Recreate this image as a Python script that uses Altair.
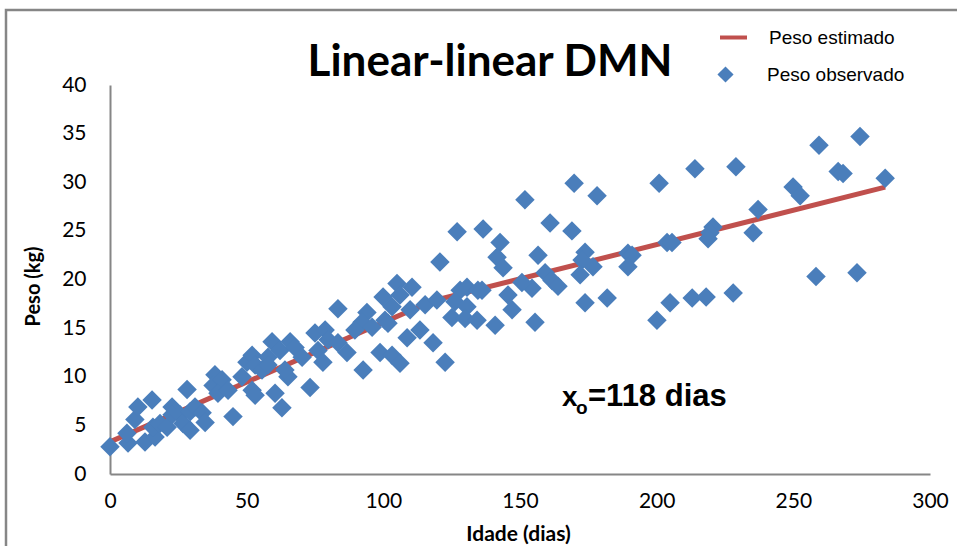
import altair as alt
import pandas as pd

# ---------------- data ----------------
dias = [0, 6.6, 6.2, 9.1, 10.2, 15.4, 12.8, 16.5, 15.7, 18.3,
        22.7, 20.9, 22.7, 25.6, 26.7, 29.3, 29.3, 31.1, 33.7, 34.8,
        28.2, 38.4, 37.7, 41.0, 39.5, 43.2, 45.0, 50.1, 52.0, 53.1,
        55.6, 48.3, 52.0, 53.1, 57.8, 59.3, 62.2, 57.8, 60.4, 62.9,
        65.9, 65.1,
        64.0, 67.7, 70.3, 75.0, 78.7, 79.8, 83.4, 86.7, 76.1, 77.9,
        73.2, 83.4, 94.0, 92.2, 89.6, 95.9, 100.6, 103.2, 101.7, 105.0,
        110.5, 106.1, 99.9, 109.8, 115.3, 119.6, 120.7, 127.0, 128.1, 130.6,
        134.6, 126.2, 130.6, 125.1, 129.9, 134.3, 113.4, 108.7, 118.2, 122.6,
        98.8, 103.2, 106.1, 92.6,
        169.8, 178.2, 151.8, 200.9, 136.5, 161.0, 169.0, 142.7, 141.6, 143.8,
        156.6, 159.2, 161.7, 163.9, 154.4, 150.7, 173.8, 172.7, 176.7, 172.0,
        189.5, 191.0, 189.5, 203.8, 205.6, 136.1, 145.6, 147.1, 140.9, 155.5,
        173.8, 181.9, 200.1, 204.9,
        214.0, 229.0, 259.4, 274.4, 266.4, 268.2, 283.6, 249.9, 252.5, 237.1,
        235.3, 220.6, 219.5, 218.8, 258.3, 273.3, 213.0, 218.1, 228.0]

pesos = [2.8, 3.2, 4.2, 5.6, 6.9, 7.6, 3.3, 3.8, 4.8, 5.2,
         6.9, 4.8, 6.1, 6.1, 5.2, 4.5, 6.4, 6.9, 6.3, 5.3,
         8.7, 10.2, 9.1, 9.7, 8.3, 8.6, 5.9, 11.5, 12.2, 11.2,
         10.7, 10.0, 8.6, 8.1, 12.0, 13.6, 12.7, 11.2, 8.3, 6.8,
         13.6, 10.0,
         10.7, 13.0, 12.0, 14.5, 14.8, 13.8, 13.5, 12.5, 12.7, 11.5,
         8.9, 17.0, 16.6, 15.6, 14.8, 15.1, 15.8, 17.2, 15.5, 19.6,
         19.2, 18.4, 18.2, 16.9, 17.4, 17.9, 21.8, 24.9, 18.9, 19.2,
         18.9, 17.7, 17.2, 16.1, 16.0, 15.8, 14.8, 14.0, 13.5, 11.5,
         12.5, 12.2, 11.4, 10.7,
         29.9, 28.6, 28.2, 29.9, 25.2, 25.8, 25.0, 23.8, 22.3, 21.2,
         22.5, 20.7, 19.9, 19.3, 19.1, 19.7, 22.8, 22.0, 21.3, 20.5,
         22.7, 22.5, 21.3, 23.8, 23.8, 18.9, 18.4, 16.9, 15.3, 15.6,
         17.6, 18.1, 15.8, 17.6,
         31.4, 31.6, 33.8, 34.7, 31.1, 30.9, 30.4, 29.5, 28.6, 27.2,
         24.8, 25.4, 24.8, 24.2, 20.3, 20.7, 18.1, 18.2, 18.6]

linha_dias = [0, 118, 283.6]
linha_pesos = [3.3, 17.8, 29.5]

x_ticks = [0, 50, 100, 150, 200, 250, 300]
y_ticks = [0, 5, 10, 15, 20, 25, 30, 35, 40]

titulo = ["Linear-linear DMN"]
anot_x = ["x"]
anot_sub = ["o"]
anot_rest = ["=118 dias"]

obs = pd.DataFrame({"Idade": dias, "Peso": pesos, "serie": "Peso observado"})
est = pd.DataFrame({"Idade": linha_dias, "Peso": linha_pesos, "linha": "Peso estimado"})

AX = "#868686"
RED = "#C0504D"
BLUE = "#4A7EBB"

xscale = alt.Scale(domain=[0, 300], nice=False, zero=False)
yscale = alt.Scale(domain=[0, 40], nice=False)

xaxis = alt.Axis(values=x_ticks, title="Idade (dias)", grid=False, ticks=False,
                 domainColor=AX, domainWidth=2, labelFont="Lato", labelFontSize=21,
                 labelColor="black", labelPadding=16, labelFlush=False, labelOverlap=False,
                 titleFont="Lato", titleFontSize=21, titleFontWeight="bold",
                 titleColor="black", titleX=408, titleY=60, titleBaseline="middle",
                 titleAlign="center")
yaxis = alt.Axis(values=y_ticks, title="Peso (kg)", grid=False, ticks=False,
                 domainColor=AX, domainWidth=2, labelFont="Lato", labelFontSize=21,
                 labelColor="black", labelPadding=24, labelFlush=False, labelOverlap=False,
                 titleFont="Lato", titleFontSize=20, titleFontWeight="bold",
                 titleColor="black", titleX=-77, titleY=201, titleAngle=270,
                 titleBaseline="middle", titleAlign="center")

frame = alt.Chart(pd.DataFrame({"f": [0]})).mark_rect(
    fillOpacity=0, stroke=AX, strokeWidth=2.5
).encode(x=alt.value(-104), x2=alt.value(960), y=alt.value(-75), y2=alt.value(560))

line = alt.Chart(est).mark_line(strokeWidth=5).encode(
    x=alt.X("Idade:Q", scale=xscale, axis=xaxis),
    y=alt.Y("Peso:Q", scale=yscale, axis=yaxis),
    stroke=alt.Stroke("linha:N",
                      scale=alt.Scale(domain=["Peso estimado"], range=[RED]),
                      legend=alt.Legend(title=None, orient="none", legendX=608, legendY=-63,
                                        symbolType="stroke", symbolSize=729,
                                        symbolStrokeWidth=4, labelFont="Liberation Sans",
                                        labelFontSize=19, labelOffset=20, labelColor="black")),
)

pts = alt.Chart(obs).mark_point(shape="diamond", filled=True, size=380, opacity=1).encode(
    x=alt.X("Idade:Q", scale=xscale, axis=xaxis),
    y=alt.Y("Peso:Q", scale=yscale, axis=yaxis),
    fill=alt.Fill("serie:N",
                  scale=alt.Scale(domain=["Peso observado"], range=[BLUE]),
                  legend=alt.Legend(title=None, orient="none", legendX=606, legendY=-20,
                                    symbolType="diamond", symbolSize=260,
                                    symbolStrokeWidth=0, labelFont="Liberation Sans",
                                    labelFontSize=19, labelOffset=32, labelColor="black")),
)

title = alt.Chart(pd.DataFrame({"t": titulo})).mark_text(
    font="Lato", fontSize=44, fontWeight="bold", align="center",
    baseline="alphabetic", color="black"
).encode(text="t:N", x=alt.value(380), y=alt.value(-9))

t1 = alt.Chart(pd.DataFrame({"t": anot_x})).mark_text(
    font="Liberation Sans", fontSize=28, fontWeight="bold", align="left",
    baseline="alphabetic", color="black"
).encode(text="t:N", x=alt.value(452), y=alt.value(321))
t2 = alt.Chart(pd.DataFrame({"t": anot_sub})).mark_text(
    font="Liberation Sans", fontSize=19, fontWeight="bold", align="left",
    baseline="alphabetic", color="black"
).encode(text="t:N", x=alt.value(466), y=alt.value(329))
t3 = alt.Chart(pd.DataFrame({"t": anot_rest})).mark_text(
    font="Liberation Sans", fontSize=31, fontWeight="bold", align="left",
    baseline="alphabetic", color="black"
).encode(text="t:N", x=alt.value(478), y=alt.value(321))

chart = alt.layer(frame, line, pts, title, t1, t2, t3).properties(
    width=820, height=389,
    autosize=alt.AutoSizeParams(type="none"),
    padding={"left": 110, "top": 85, "right": 27, "bottom": 72},
    background="white",
).configure_view(stroke=None)

chart.save("out.html", embed_options={"renderer": "svg", "actions": False})
